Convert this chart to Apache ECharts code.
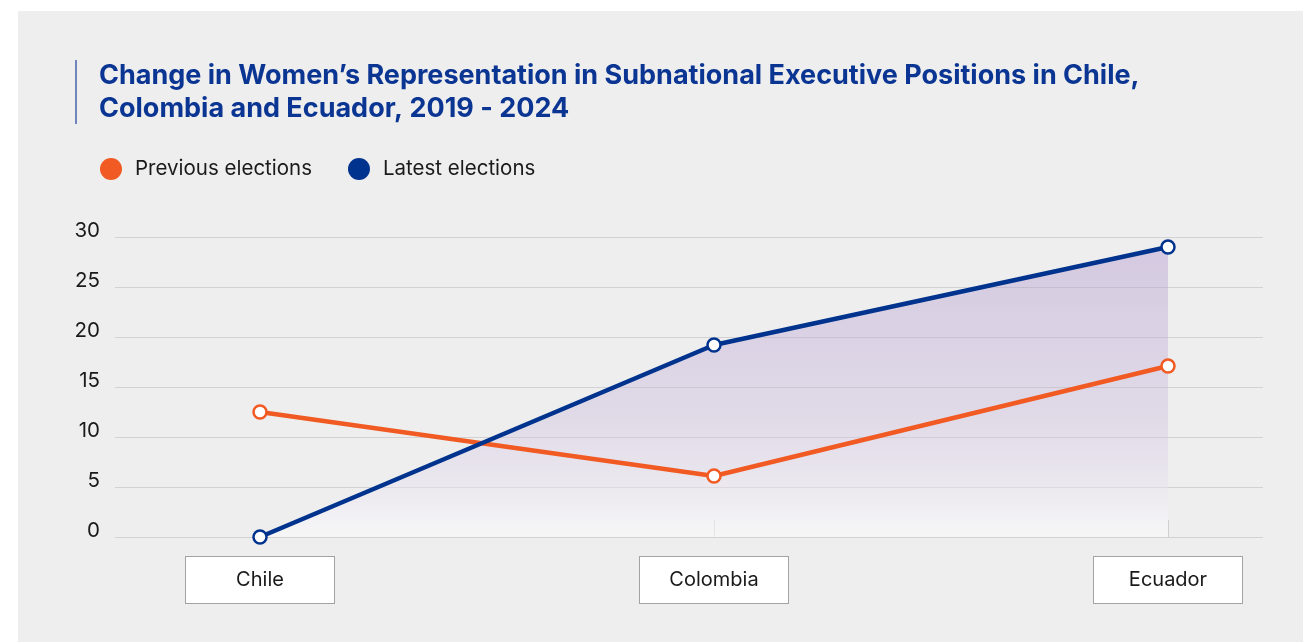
<!DOCTYPE html>
<html>
<head>
<meta charset="utf-8">
<title>Women's Representation in Subnational Executive Positions</title>
<script src="https://cdn.jsdelivr.net/npm/echarts@6/dist/echarts.min.js"></script>
<style>
  html, body { margin: 0; padding: 0; background: #ffffff; }
  #chart { width: 1303px; height: 642px; }
</style>
</head>
<body>
<div id="chart"></div>
<script>
// Countries on the horizontal axis
const countries = ['Chile', 'Colombia', 'Ecuador'];
// Share of women (%) in subnational executive posts
const previousElections = [12.5, 6.1, 17.1];
const latestElections = [0, 19.2, 29.0];
// Vertical axis ticks
const yTicks = [0, 5, 10, 15, 20, 25, 30];

const ORANGE = '#f15a22';
const BLUE = '#00338d';
const FONT = 'Inter, "Noto Sans", sans-serif';

const chart = echarts.init(document.getElementById('chart'), null, { renderer: 'canvas' });

const yMin = yTicks[0];
const yMax = yTicks[yTicks.length - 1];
const yStep = yTicks[1] - yTicks[0];

const pointStyle = (c) => ({ color: '#ffffff', borderColor: c, borderWidth: 2.5 });

chart.setOption({
  backgroundColor: '#ffffff',
  animation: false,
  graphic: [
    { type: 'rect', z: -10, shape: { x: 18, y: 11, width: 1285, height: 631 }, style: { fill: '#eeeeee' } },
    { type: 'line', z: 10, shape: { x1: 76, y1: 60, x2: 76, y2: 124 }, style: { stroke: '#4563ab', lineWidth: 1.5 } }
  ],
  title: {
    text: 'Change in Women\u2019s Representation in Subnational Executive Positions in Chile,\nColombia and Ecuador, 2019 - 2024',
    left: 94,
    top: 54,
    textStyle: {
      fontFamily: FONT,
      fontWeight: 'bold',
      fontSize: 27,
      lineHeight: 33,
      color: '#0b3593'
    }
  },
  legend: {
    left: 95,
    top: 153,
    icon: 'circle',
    itemWidth: 22,
    itemHeight: 22,
    itemGap: 36,
    textStyle: { fontFamily: FONT, fontSize: 20.5, color: '#1a1a1a', padding: [0, 0, 0, 8] },
    data: [
      { name: 'Previous elections', itemStyle: { color: ORANGE, borderWidth: 0 } },
      { name: 'Latest elections', itemStyle: { color: BLUE, borderWidth: 0 } }
    ]
  },
  grid: [
    { left: 115, right: 40, top: 237, bottom: 105 },
    { left: 260, right: 135, top: 237, bottom: 105 }
  ],
  xAxis: [
    { gridIndex: 0, type: 'value', show: false, min: 0, max: 1 },
    {
      gridIndex: 1,
      type: 'category',
      data: countries,
      boundaryGap: false,
      axisLine: { show: false },
      axisTick: {
        show: true,
        inside: true,
        length: 17,
        interval: (i) => i > 0,
        lineStyle: { color: '#cfcfcf', width: 1 }
      },
      axisLabel: {
        interval: 0,
        margin: 20,
        fontFamily: FONT,
        fontSize: 20,
        color: '#1a1a1a',
        backgroundColor: '#ffffff',
        borderColor: '#a3a3a3',
        borderWidth: 1,
        width: 148,
        height: 46,
        lineHeight: 46,
        align: 'center',
        verticalAlign: 'top'
      },
      splitLine: { show: false }
    }
  ],
  yAxis: [
    {
      gridIndex: 0,
      type: 'value',
      min: yMin,
      max: yMax,
      interval: yStep,
      axisLine: { show: false },
      axisTick: { show: false },
      axisLabel: {
        margin: 15,
        fontFamily: FONT,
        fontSize: 20.5,
        color: '#1a1a1a',
        verticalAlign: 'bottom',
        lineHeight: 12
      },
      splitLine: { show: true, lineStyle: { color: '#d2d2d2', width: 1 } }
    },
    { gridIndex: 1, type: 'value', min: yMin, max: yMax, interval: yStep, show: false }
  ],
  series: [
    {
      // shaded band beneath the latest-elections line
      name: 'latest-area',
      type: 'line',
      xAxisIndex: 1,
      yAxisIndex: 1,
      data: latestElections,
      symbol: 'none',
      silent: true,
      lineStyle: { width: 0 },
      areaStyle: {
        color: new echarts.graphic.LinearGradient(0, 0, 0, 1, [
          { offset: 0, color: 'rgba(178,152,206,0.62)' },
          { offset: 0.55, color: 'rgba(196,178,218,0.5)' },
          { offset: 1, color: 'rgba(255,255,255,0.7)' }
        ])
      },
      z: 1
    },
    {
      name: 'Previous elections',
      type: 'line',
      xAxisIndex: 1,
      yAxisIndex: 1,
      data: previousElections,
      symbol: 'circle',
      symbolSize: 13,
      lineStyle: { color: ORANGE, width: 4.5 },
      itemStyle: pointStyle(ORANGE),
      z: 3
    },
    {
      name: 'Latest elections',
      type: 'line',
      xAxisIndex: 1,
      yAxisIndex: 1,
      data: latestElections,
      symbol: 'circle',
      symbolSize: 13,
      lineStyle: { color: BLUE, width: 4.5 },
      itemStyle: pointStyle(BLUE),
      z: 4
    }
  ]
});
</script>
</body>
</html>
